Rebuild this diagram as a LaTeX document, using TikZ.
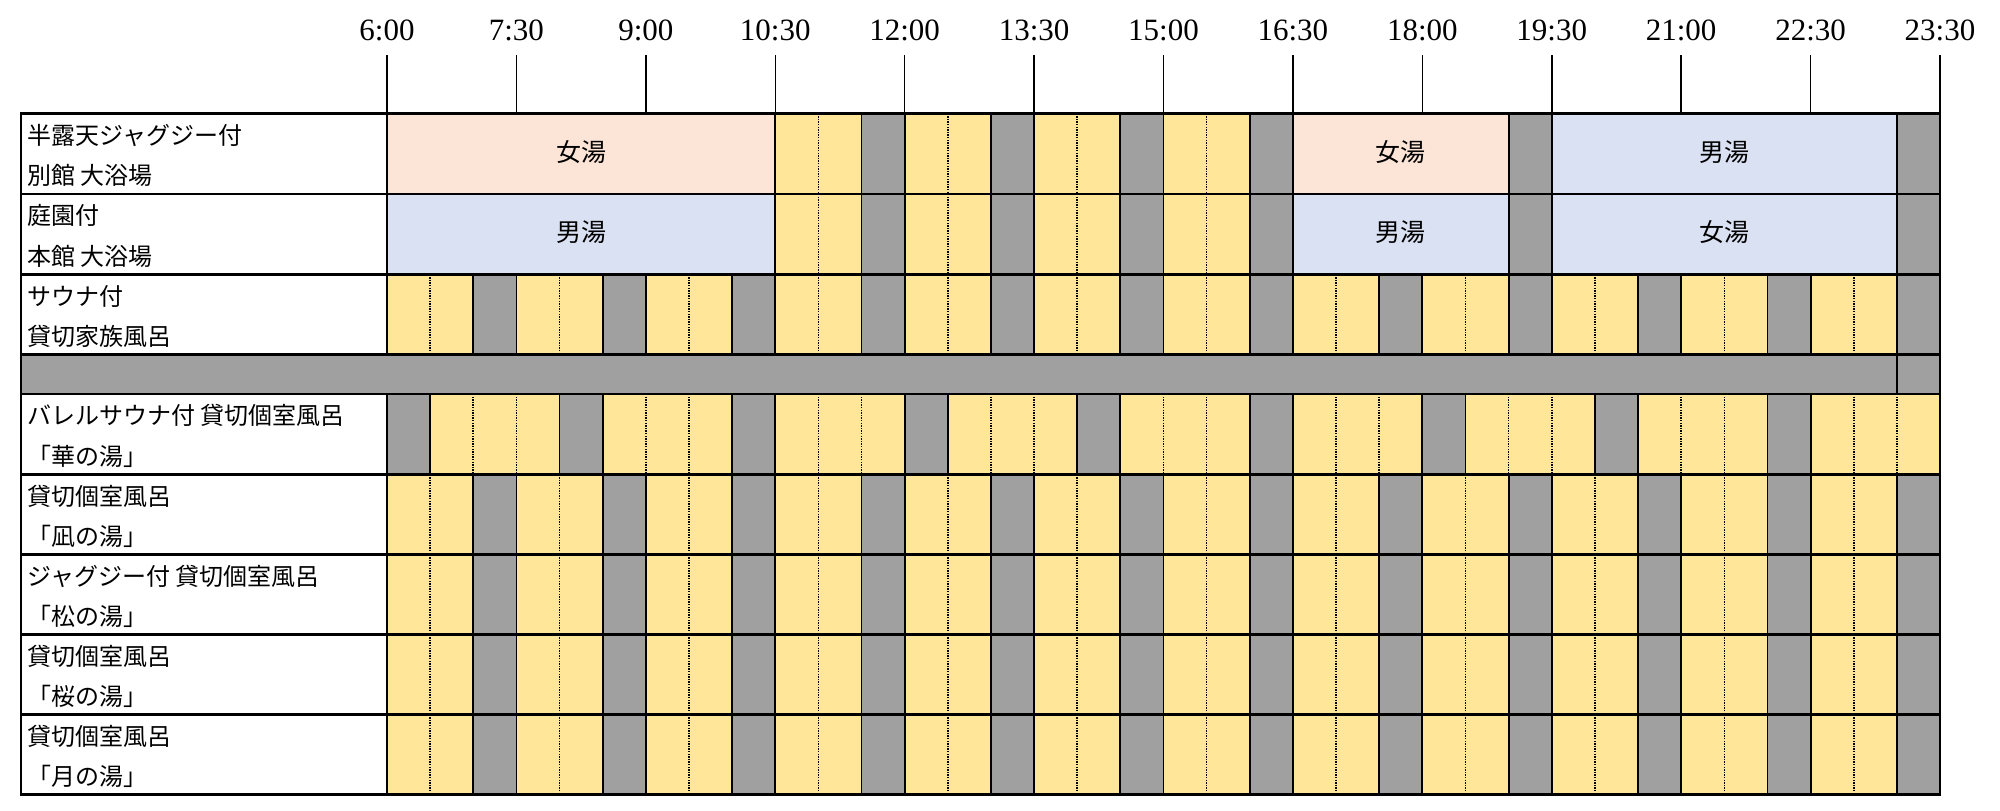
\documentclass[tikz,border=0pt]{standalone}
\usepackage{fontspec}
\setmainfont{Liberation Serif}
\newfontfamily\jp{Noto Sans CJK JP}
\definecolor{cy}{HTML}{FFE699}
\definecolor{cg}{HTML}{A0A0A0}
\definecolor{cpk}{HTML}{FCE4D6}
\definecolor{cbl}{HTML}{D9E1F2}
\begin{document}
\begin{tikzpicture}[x=1pt,y=-1pt,
  solidv/.style={line width=1.8pt, black},
  dotv/.style={line width=1.6pt, black, dash pattern=on 1.4pt off 1.2pt},
  hline/.style={line width=2.2pt, black},
  rowlab/.style={anchor=base west, inner sep=0pt, font=\jp\fontsize{24}{24}\selectfont},
  blocklab/.style={anchor=center, inner sep=0pt, font=\jp\fontsize{25}{25}\selectfont},
  timelab/.style={anchor=base, inner sep=0pt, font=\fontsize{31}{31}\selectfont},
  ticks/.style={line width=1.5pt, black}]
\def\xo{387}
\def\cw{43.1389}
\useasboundingbox (0,0) rectangle (2000,811);
\fill[white] (0,0) rectangle (2000,811);

% ---------- rows with Y Y G pattern ----------
\foreach \t/\b in {274.5/354.5, 474.5/554.5, 554.5/634.5, 634.5/714.5, 714.5/794.5} {
  \foreach \i in {0,...,35} {
    \pgfmathtruncatemacro\m{mod(\i,3)}
    \ifnum\m=2 \def\cellc{cg}\else\def\cellc{cy}\fi
    \fill[\cellc] ({\xo+\i*\cw},\t) rectangle ({\xo+(\i+1)*\cw},\b);
  }
  \foreach \i in {1,...,35} {
    \pgfmathtruncatemacro\m{mod(\i,3)}
    \ifnum\m=1
      \draw[dotv] ({\xo+\i*\cw},\t) -- ({\xo+\i*\cw},\b);
    \else
      \draw[solidv] ({\xo+\i*\cw},\t) -- ({\xo+\i*\cw},\b);
    \fi
  }
}

% ---------- row 5: G Y Y Y pattern ----------
\foreach \i in {0,...,35} {
  \pgfmathtruncatemacro\m{mod(\i,4)}
  \ifnum\m=0 \def\cellc{cg}\else\def\cellc{cy}\fi
  \fill[\cellc] ({\xo+\i*\cw},394) rectangle ({\xo+(\i+1)*\cw},474.5);
}
\foreach \i in {1,...,35} {
  \pgfmathtruncatemacro\m{mod(\i,4)}
  \ifnum\m<2
    \draw[solidv] ({\xo+\i*\cw},394) -- ({\xo+\i*\cw},474.5);
  \else
    \draw[dotv] ({\xo+\i*\cw},394) -- ({\xo+\i*\cw},474.5);
  \fi
}

% ---------- rows 1 and 2 ----------
\foreach \t/\b/\ca/\cb/\cc in {113.5/194/cpk/cpk/cbl, 194/274.5/cbl/cbl/cbl} {
  \fill[\ca] (\xo,\t) rectangle ({\xo+9*\cw},\b);
  \foreach \i in {9,...,20} {
    \pgfmathtruncatemacro\m{mod(\i,3)}
    \ifnum\m=2 \def\cellc{cg}\else\def\cellc{cy}\fi
    \fill[\cellc] ({\xo+\i*\cw},\t) rectangle ({\xo+(\i+1)*\cw},\b);
  }
  \fill[\cb] ({\xo+21*\cw},\t) rectangle ({\xo+26*\cw},\b);
  \fill[cg] ({\xo+26*\cw},\t) rectangle ({\xo+27*\cw},\b);
  \fill[\cc] ({\xo+27*\cw},\t) rectangle ({\xo+35*\cw},\b);
  \fill[cg] ({\xo+35*\cw},\t) rectangle ({\xo+36*\cw},\b);
  \foreach \i in {9,11,12,14,15,17,18,20,21,26,27,35}
    \draw[solidv] ({\xo+\i*\cw},\t) -- ({\xo+\i*\cw},\b);
  \foreach \i in {10,13,16,19}
    \draw[dotv] ({\xo+\i*\cw},\t) -- ({\xo+\i*\cw},\b);
}

% ---------- separator row ----------
\fill[cg] (21,354.5) rectangle ({\xo+36*\cw},394);
\draw[solidv] ({\xo+35*\cw},354.5) -- ({\xo+35*\cw},394);

% ---------- borders ----------
\foreach \y in {113.5,194,274.5,354.5,394,474.5,554.5,634.5,714.5,794.5}
  \draw[hline] (20,\y) -- ({\xo+36*\cw+1},\y);
\draw[hline] (21,113.5) -- (21,794.5);
\draw[hline] ({\xo+36*\cw},113.5) -- ({\xo+36*\cw},794.5);
\draw[line width=1.8pt] (\xo,113.5) -- (\xo,354.5);
\draw[line width=1.8pt] (\xo,394) -- (\xo,794.5);

% ---------- time axis ----------
\foreach \lab [count=\k from 0] in {6:00,7:30,9:00,10:30,12:00,13:30,15:00,16:30,18:00,19:30,21:00,22:30,23:30} {
  \node[timelab] (t\k) at ({\xo+3*\k*\cw},40) {\lab};
  \coordinate (tk\k) at ({\xo+3*\k*\cw},55);
  \draw[ticks] (tk\k) -- ({\xo+3*\k*\cw},113.5);
}

% ---------- block labels ----------
\node[blocklab] (b1a) at ({\xo+4.5*\cw},152.5) {女湯};
\node[blocklab] (b1b) at ({\xo+23.5*\cw},152.5) {女湯};
\node[blocklab] (b1c) at ({\xo+31*\cw},152.5) {男湯};
\node[blocklab] (b2a) at ({\xo+4.5*\cw},232.5) {男湯};
\node[blocklab] (b2b) at ({\xo+23.5*\cw},232.5) {男湯};
\node[blocklab] (b2c) at ({\xo+31*\cw},232.5) {女湯};

% ---------- row labels ----------
\foreach \t/\la/\lb [count=\r] in {
  113.5/半露天ジャグジー付/別館 大浴場,
  194/庭園付/本館 大浴場,
  274.5/サウナ付/貸切家族風呂,
  394/バレルサウナ付 貸切個室風呂/「華の湯」,
  474.5/貸切個室風呂/「凪の湯」,
  554.5/ジャグジー付 貸切個室風呂/「松の湯」,
  634.5/貸切個室風呂/「桜の湯」,
  714.5/貸切個室風呂/「月の湯」} {
  \node[rowlab] (la\r) at (27,\t+30.5) {\la};
  \node[rowlab] (lb\r) at (27,\t+71) {\lb};
}
\end{tikzpicture}
\end{document}
